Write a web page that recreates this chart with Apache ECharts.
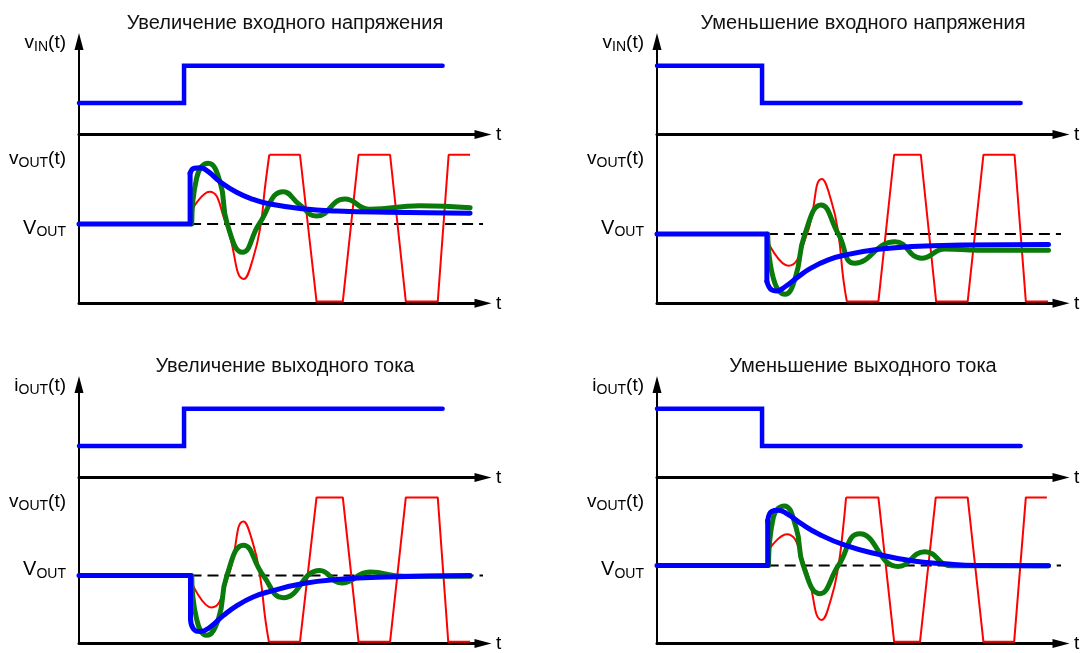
<!DOCTYPE html>
<html>
<head>
<meta charset="utf-8">
<script src="https://cdn.jsdelivr.net/npm/echarts@6/dist/echarts.min.js"></script>
<style>
html, body { margin: 0; background: #fff; }
#chart { width: 1081px; height: 653px; }
</style>
</head>
<body>
<div id="chart"></div>
<script>
// time axis runs 0..100 (arrow at 100), both value axes 0..100

// --- top-left: input voltage step up ---
const tlIn = [[0, 34], [26, 34], [26, 74], [90, 74]]
const tlVout = 47
const tlBluePre = [[0, 47], [27.5, 47], [27.5, 77]]
const tlBlue = [[27.5, 77], [28.5, 80], [30, 80.3], [32, 78], [34.9, 72], [39, 65.8], [43.1, 61.6], [47.3, 58.8], [55.5, 56], [63.8, 54.7], [76.2, 53.9], [96.8, 53.3]]
const tlGreen = [[27.9, 47], [29.1, 74], [32, 82.9], [34.9, 72], [36.7, 47], [40.5, 30.2], [44.6, 47], [50.6, 66.1], [54.7, 58.2], [58.8, 51.7], [65.8, 61.8], [72, 55.7], [84.4, 57.8], [96.8, 56.6]]
const tlRedCurve = [[27.9, 55.3], [32.3, 66.1], [36.4, 47], [40.8, 14.4], [43.1, 26.7], [45, 47], [46, 68], [47.1, 88]]
const tlRedSq = [[47.1, 88], [54.7, 88], [58.8, 1], [65.3, 1], [69.2, 88], [77, 88], [80.9, 1], [88.8, 1], [91.5, 88], [96.8, 88]]

// --- top-right: input voltage step down ---
const trIn = [[0, 74], [26, 74], [26, 34], [90, 34]]
const trVout = 41
const trBluePre = [[0, 41], [27.2, 41], [27.2, 13]]
const trBlue = [[27.2, 13], [28.4, 7.9], [29.6, 7.3], [31.7, 9.8], [35, 15.8], [38.3, 21.1], [42.4, 25.7], [46.5, 28.6], [54.8, 32], [63, 33.6], [75.4, 34.5], [96.9, 34.9]]
const trGreen = [[27.4, 41], [28.8, 14.8], [31.7, 5.3], [34.2, 14.8], [36.6, 41], [40.6, 58.2], [44.9, 41], [49, 23.7], [58.9, 36.5], [65.5, 26.7], [71.3, 32.2], [79.5, 31.4], [96.9, 31.4]]
const trRedCurve = [[27.4, 36.5], [32.5, 22.3], [37.1, 41], [40.8, 73.6], [43.2, 60.2], [44.9, 41], [46.1, 14.8], [47, 1]]
const trRedSq = [[47, 1], [54.8, 1], [58.7, 88], [65.3, 88], [69.1, 1], [76.9, 1], [80.8, 88], [88.5, 88], [91.3, 1], [96.8, 1]]

// --- bottom-left: load current step up ---
const blIn = [[0, 34], [26, 34], [26, 74], [90, 74]]
const blVout = 41
const blBluePre = [[0, 41], [27.6, 41], [27.6, 15]]
const blBlue = [[27.6, 15], [28.3, 8.9], [30, 7.3], [32.4, 9.8], [35.7, 16.8], [39, 22.7], [43.1, 28], [47.3, 31.4], [55.5, 36.1], [63.8, 38.5], [76.2, 40], [96.8, 40.9]]
const blGreen = [[27.9, 41], [29.1, 14.8], [31.6, 4.9], [34.5, 14.8], [36.6, 41], [40.7, 59.2], [45.6, 41], [50.6, 27.6], [59.6, 44], [65, 36.5], [72, 43], [80.3, 40.5], [96.8, 40.5]]
const blRedCurve = [[27.9, 36.5], [32.8, 21.7], [37, 40.9], [40.7, 73.5], [43.1, 60], [44.8, 40.9], [46.1, 15], [47, 1]]
const blRedSq = [[47, 1], [54.7, 1], [58.8, 88], [65.3, 88], [69.2, 1], [77, 1], [80.9, 88], [88.8, 88], [91.4, 1], [96.8, 1]]

// --- bottom-right: load current step down ---
const brIn = [[0, 74], [26, 74], [26, 34], [90, 34]]
const brVout = 47
const brBluePre = [[0, 47], [27.4, 47], [27.4, 74]]
const brBlue = [[27.4, 74], [28.4, 79.6], [30, 80.3], [32.5, 77.6], [35.8, 72], [39.9, 66.1], [46.5, 59.2], [54.8, 53.7], [63, 49.9], [71.3, 48], [79.5, 47], [96.9, 46.8]]
const brGreen = [[27.6, 47], [28.8, 76], [31.5, 82.9], [34.4, 70], [36.2, 47], [40.3, 30], [44.9, 47], [50.2, 66.1], [59.7, 46.4], [66.3, 55.3], [72.9, 46.8], [96.9, 46.8]]
const brRedCurve = [[27.6, 56.3], [32.1, 65.8], [36.6, 46.8], [40.8, 14.2], [43.1, 27], [44.9, 46.8], [46, 68], [46.8, 88]]
const brRedSq = [[46.8, 88], [54.8, 88], [58.7, 1], [65.1, 1], [69, 88], [76.9, 88], [80.8, 1], [88.4, 1], [91.3, 88], [96.5, 88]]

const titles = ['Увеличение входного напряжения', 'Уменьшение входного напряжения', 'Увеличение выходного тока', 'Уменьшение выходного тока']

const FONT = "'Liberation Sans', Arial, sans-serif"
const BLUE = '#0000ff'
const GREEN = '#0a7a0a'
const RED = '#ff0000'

const panels = [
    { title: titles[0], sub: 'IN', input: tlIn, vout: tlVout, bluePre: tlBluePre, blue: tlBlue, green: tlGreen, redCurve: tlRedCurve, redSq: tlRedSq, x0: 79, dy: 0 },
    { title: titles[1], sub: 'IN', input: trIn, vout: trVout, bluePre: trBluePre, blue: trBlue, green: trGreen, redCurve: trRedCurve, redSq: trRedSq, x0: 657, dy: 0 },
    { title: titles[2], sub: 'OUT', input: blIn, vout: blVout, bluePre: blBluePre, blue: blBlue, green: blGreen, redCurve: blRedCurve, redSq: blRedSq, x0: 79, dy: 343 },
    { title: titles[3], sub: 'OUT', input: brIn, vout: brVout, bluePre: brBluePre, blue: brBlue, green: brGreen, redCurve: brRedCurve, redSq: brRedSq, x0: 657, dy: 343 },
]

const rich = {
    m: { fontSize: 19, fontFamily: FONT, color: '#000', verticalAlign: 'bottom', padding: [0, 0, 2, 0] },
    s: { fontSize: 14, fontFamily: FONT, color: '#000', verticalAlign: 'bottom' },
    M: { fontSize: 20, fontFamily: FONT, color: '#000', verticalAlign: 'bottom', padding: [0, 0, 1, 0] },
    S: { fontSize: 14, fontFamily: FONT, color: '#000', verticalAlign: 'bottom' },
}

const grid = []
const xAxis = []
const yAxis = []
const series = []
const graphic = []

const xAxisDef = gi => ({
    type: 'value',
    gridIndex: gi,
    min: 0,
    max: 100,
    axisLine: { show: true, symbol: ['none', 'triangle'], symbolSize: [9, 17], lineStyle: { color: '#000', width: 3 } },
    axisTick: { show: false },
    axisLabel: { show: false },
    splitLine: { show: false },
    name: 't',
    nameLocation: 'end',
    nameGap: 13,
    nameTextStyle: { fontSize: 19, fontFamily: FONT, color: '#000', padding: [3, 0, 0, 0] },
})

const line = (data, gi, color, width, extra) =>
    Object.assign(
        {
            type: 'line',
            xAxisIndex: gi,
            yAxisIndex: gi,
            data: data,
            symbol: 'none',
            silent: true,
            animation: false,
            lineStyle: { color: color, width: width, cap: 'round' },
        },
        extra || {}
    )

panels.forEach((p, i) => {
    const gt = 2 * i
    const gb = 2 * i + 1
    grid.push({ left: p.x0, width: 404, top: 41.5 + p.dy, height: 93 })
    grid.push({ left: p.x0, width: 404, top: 134.5 + p.dy, height: 168.8 })

    xAxis.push(xAxisDef(gt), xAxisDef(gb))

    yAxis.push({
        type: 'value',
        gridIndex: gt,
        min: 0,
        max: 100,
        axisLine: { show: true, symbol: ['none', 'triangle'], symbolSize: [9, 17], lineStyle: { color: '#000', width: 2 } },
        axisTick: { show: false },
        splitLine: { show: false },
        axisLabel: {
            show: true,
            customValues: [98],
            margin: 13,
            formatter: () => `{m|${p.sub === 'IN' ? 'v' : 'i'}}{s|${p.sub}}{m|(t)}`,
            rich: rich,
        },
    })
    yAxis.push({
        type: 'value',
        gridIndex: gb,
        min: 0,
        max: 100,
        axisLine: { show: true, lineStyle: { color: '#000', width: 2 } },
        axisTick: { show: false },
        splitLine: { show: false },
        axisLabel: {
            show: true,
            customValues: [44, 85],
            margin: 13,
            formatter: v => (v === 44 ? '{M|V}{S|OUT}' : '{m|v}{s|OUT}{m|(t)}'),
            rich: rich,
        },
    })

    // input step
    series.push(line(p.input, gt, BLUE, 4.5, { lineStyle: { color: BLUE, width: 4.5, cap: 'round', join: 'miter' } }))
    // V_OUT reference
    series.push(line([[p.bluePre[1][0], p.vout], [100, p.vout]], gb, '#000', 2, { lineStyle: { color: '#000', width: 2, type: [11, 6] } }))
    // red: underdamped, clipped
    series.push(line(p.redCurve, gb, RED, 2, { smooth: 0.5, lineStyle: { color: RED, width: 2 } }))
    series.push(line(p.redSq, gb, RED, 2, { lineStyle: { color: RED, width: 2 } }))
    // green: moderately damped
    series.push(line(p.green, gb, GREEN, 5, { smooth: 0.5 }))
    // blue: well damped
    series.push(line(p.bluePre, gb, BLUE, 5, { lineStyle: { color: BLUE, width: 5, cap: 'round', join: 'round' } }))
    series.push(line(p.blue, gb, BLUE, 5, { smooth: 0.5 }))

    graphic.push({
        type: 'text',
        x: p.x0 + 206,
        y: 23 + p.dy,
        style: { text: p.title, font: `20px ${FONT}`, fill: '#111', align: 'center', verticalAlign: 'middle' },
    })
})

const chart = echarts.init(document.getElementById('chart'))
chart.setOption({
    backgroundColor: '#fff',
    animation: false,
    grid: grid,
    xAxis: xAxis,
    yAxis: yAxis,
    series: series,
    graphic: graphic,
})
</script>
</body>
</html>
